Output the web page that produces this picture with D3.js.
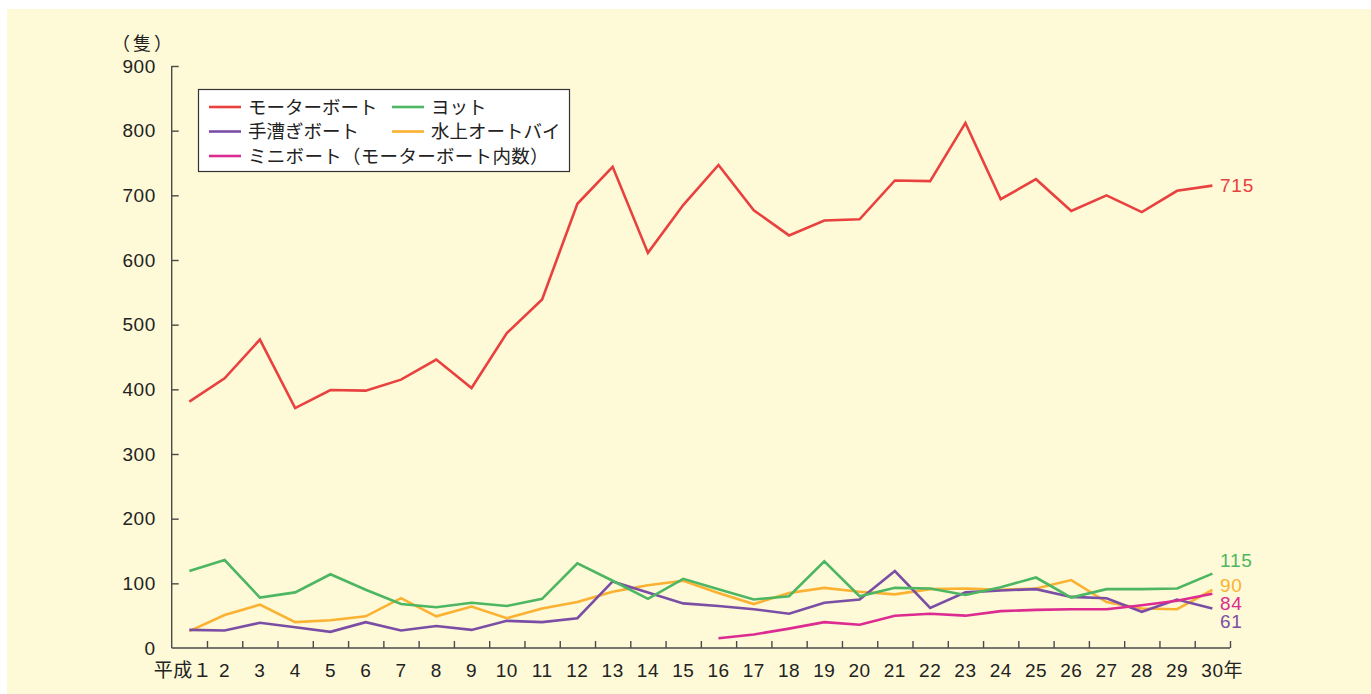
<!DOCTYPE html>
<html>
  <head>
    <meta charset="utf-8" />
    <title>船舶の推移</title>
    <script src="https://cdn.jsdelivr.net/npm/d3@7/dist/d3.min.js"></script>
    <style>
      body { margin: 0; background: #fff; }
      svg text { font-family: "Liberation Sans", "Noto Sans CJK JP", sans-serif; }
    </style>
  </head>
  <body>
    <script>
// data (平成1〜30年)
var years = d3.range(1, 31);
var motorBoat = [381, 417, 477, 371, 399, 398, 415, 446, 402, 487, 539, 687, 744, 611, 685,
                 747, 677, 638, 661, 663, 723, 722, 812, 694, 725, 676, 700, 674, 707, 715];
var yacht     = [119, 136, 78, 86, 114, 90, 68, 63, 70, 65, 76, 131, 104, 76, 107,
                 91, 75, 80, 134, 80, 93, 92, 82, 94, 109, 78, 91, 91, 92, 115];
var rowBoat   = [28, 27, 39, 32, 25, 40, 27, 34, 28, 42, 40, 46, 103, 86, 69,
                 65, 60, 53, 70, 75, 119, 62, 86, 89, 91, 79, 77, 56, 75, 61];
var pwc       = [26, 51, 67, 40, 43, 49, 77, 49, 64, 46, 61, 71, 87, 97, 104,
                 85, 68, 85, 93, 87, 83, 91, 92, 90, 92, 105, 71, 61, 60, 90];
var miniBoat  = [null, null, null, null, null, null, null, null, null, null, null, null, null, null, null,
                 15, 21, 30, 40, 36, 50, 53, 50, 57, 59, 60, 60, 66, 73, 84];
var yTicks = [0, 100, 200, 300, 400, 500, 600, 700, 800, 900];

var series = [
  {name: "モーターボート", values: motorBoat, color: "#e8413f"},
  {name: "ヨット", values: yacht, color: "#4cb662"},
  {name: "手漕ぎボート", values: rowBoat, color: "#7b4ea6"},
  {name: "水上オートバイ", values: pwc, color: "#fbb131"},
  {name: "ミニボート（モーターボート内数）", values: miniBoat, color: "#dc2b91"}
];
// end label nudges (px), same order as series
var endDy = [0, -13, 13, -4, 10];
var endOrder = [0, 1, 4, 3, 2];

var W = 1371, H = 694;
var plotL = 171.7, plotR = 1230, plotT = 66, plotB = 648;

var svg = d3.select("body").append("svg")
  .attr("width", W).attr("height", H);

svg.append("rect")
  .attr("x", 7).attr("y", 9).attr("width", W - 7).attr("height", H - 9)
  .attr("fill", "#fef9d6");

var x = d3.scaleLinear().domain([0.5, 30.5]).range([plotL, plotR]);
var y = d3.scaleLinear().domain([0, 900]).range([plotB, plotT]);

// y axis, ticks point inward
var yAxis = svg.append("g")
  .attr("transform", "translate(" + plotL + ",0)")
  .call(d3.axisLeft(y).tickValues(yTicks).tickSize(-7).tickPadding(16));
yAxis.selectAll("text").attr("font-size", 19).attr("fill", "#222")
  .attr("letter-spacing", "0.5px");
yAxis.selectAll("line,path").attr("stroke", "#4a4a4a").attr("stroke-width", 1.4);
yAxis.select(".domain").attr("d", "M0," + y(900) + "V" + y(0));
yAxis.selectAll(".tick").filter(function(d) { return d === 0; }).select("line").remove();

// x axis: ticks at the boundaries between years
var bounds = d3.range(1.5, 31, 1);
var xAxis = svg.append("g")
  .attr("transform", "translate(0," + plotB + ")")
  .call(d3.axisBottom(x).tickValues(bounds).tickSize(-7).tickFormat(""));
xAxis.selectAll("line,path").attr("stroke", "#4a4a4a").attr("stroke-width", 1.4);
xAxis.select(".domain").attr("d", "M" + plotL + ",0H" + plotR);

svg.append("g").selectAll("text")
  .data(years)
  .enter().append("text")
    .attr("x", function(d) { return x(d); })
    .attr("y", plotB + 29)
    .attr("font-size", 19)
    .attr("letter-spacing", "0.5px")
    .attr("fill", "#222")
    .attr("text-anchor", function(d) { return d === 1 ? "end" : d === 30 ? "start" : "middle"; })
    .attr("dx", function(d) { return d === 1 ? 23 : d === 30 ? -11 : 0; })
    .text(function(d) { return d === 1 ? "平成１" : d === 30 ? "30年" : d; });

svg.append("text")
  .attr("x", 112).attr("y", 50)
  .attr("font-size", 18).attr("fill", "#222")
  .attr("letter-spacing", "-1px")
  .text("（ 隻 ）");

// lines
var line = d3.line()
  .defined(function(d) { return d != null; })
  .x(function(d, i) { return x(years[i]); })
  .y(function(d) { return y(d); });

var order = [3, 2, 1, 4, 0];
order.forEach(function(k) {
  svg.append("path")
    .datum(series[k].values)
    .attr("fill", "none")
    .attr("stroke", series[k].color)
    .attr("stroke-width", 2.6)
    .attr("stroke-linejoin", "miter")
    .attr("d", line);
});

// end value labels
endOrder.forEach(function(k) {
  var v = series[k].values[29];
  svg.append("text")
    .attr("x", plotR - 10)
    .attr("y", y(v) + endDy[k])
    .attr("dy", "0.35em")
    .attr("font-size", 19)
    .attr("letter-spacing", "0.8px")
    .attr("fill", series[k].color)
    .text(v);
});

// legend
var lg = svg.append("g");
lg.append("rect")
  .attr("x", 198.5).attr("y", 89.5).attr("width", 371).attr("height", 82)
  .attr("fill", "#fff").attr("stroke", "#333").attr("stroke-width", 1.2);

var legendPos = [[0, 0], [1, 0], [0, 1], [1, 1], [0, 2]];
var colX = [209, 392], rowY = [107, 131.5, 156];
series.forEach(function(s, i) {
  var cx = colX[legendPos[i][0]], cy = rowY[legendPos[i][1]];
  lg.append("line")
    .attr("x1", cx).attr("x2", cx + 32).attr("y1", cy).attr("y2", cy)
    .attr("stroke", s.color).attr("stroke-width", 2.6);
  lg.append("text")
    .attr("x", cx + 39).attr("y", cy).attr("dy", "0.36em")
    .attr("font-size", 18.5).attr("fill", "#222")
    .attr("letter-spacing", i === 4 ? "0.3px" : "0px")
    .text(s.name);
});
    </script>
  </body>
</html>
